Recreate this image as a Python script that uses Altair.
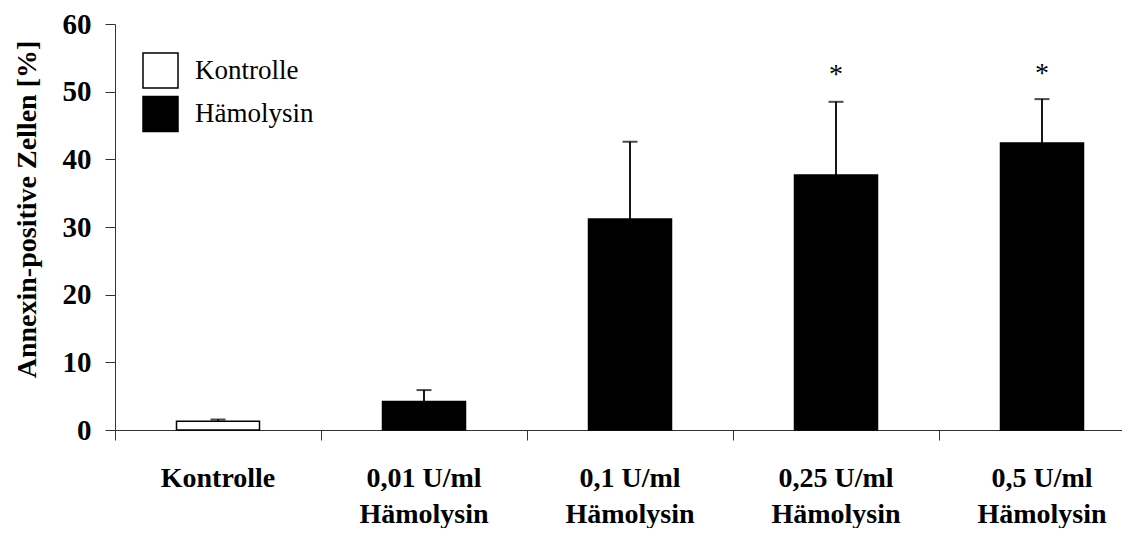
import altair as alt
import pandas as pd

categories = ["Kontrolle", "0,01 U/ml|Hämolysin", "0,1 U/ml|Hämolysin",
              "0,25 U/ml|Hämolysin", "0,5 U/ml|Hämolysin"]
groups = ["Kontrolle", "Hämolysin", "Hämolysin", "Hämolysin", "Hämolysin"]
means = [1.3, 4.2, 31.2, 37.7, 42.4]
errors = [0.25, 1.7, 11.4, 10.8, 6.5]
stars = ["", "", "", "*", "*"]
star_y = [None, None, None, 51.3, 51.5]

df = pd.DataFrame({
    "cat": categories,
    "group": groups,
    "mean": means,
    "upper": [m + e for m, e in zip(means, errors)],
    "star": stars,
    "star_y": star_y,
})

FONT = "Liberation Serif"

x = alt.X(
    "cat:N",
    sort=categories,
    scale=alt.Scale(paddingInner=0, paddingOuter=0, range=[0, 1030]),
    axis=alt.Axis(
        title=None,
        labelExpr="split(datum.label, '|')",
        labelFont=FONT,
        labelFontSize=28,
        labelFontWeight="bold",
        labelColor="black",
        labelAngle=0,
        labelBaseline="alphabetic",
        labelPadding=46,
        labelLineHeight=36,
        bandPosition=0,
        tickSize=10,
        tickColor="#333333",
        domainColor="#333333",
        labelLimit=400,
    ),
)

y = alt.Y(
    "mean:Q",
    scale=alt.Scale(domain=[0, 60], nice=False),
    axis=alt.Axis(
        title="Annexin-positive Zellen [%]",
        values=[0, 10, 20, 30, 40, 50, 60],
        grid=False,
        labelFont=FONT,
        labelFontSize=29,
        labelFontWeight="bold",
        labelColor="black",
        labelPadding=14,
        tickSize=10,
        tickColor="#333333",
        domainColor="#333333",
        titleFont=FONT,
        titleFontSize=28,
        titleFontWeight="bold",
        titleColor="black",
        titleX=-80,
        titleY=185,
        titleBaseline="alphabetic",
        titleAlign="center",
        titleAngle=-90,
    ),
)

color = alt.Color(
    "group:N",
    scale=alt.Scale(domain=["Kontrolle", "Hämolysin"], range=["white", "black"]),
    legend=alt.Legend(
        title=None,
        orient="none",
        legendX=27,
        legendY=28,
        padding=0,
        symbolType="square",
        symbolSize=1225,
        symbolStrokeColor="black",
        symbolStrokeWidth=1.5,
        symbolOpacity=1,
        labelFont=FONT,
        labelFontSize=27,
        labelColor="black",
        labelOffset=16,
        rowPadding=2.5,
    ),
)

base = alt.Chart(df)

bars = base.mark_bar(size=83, stroke="black", strokeWidth=1.5, opacity=1).encode(
    x=x, y=y, color=color
)

rules = base.mark_rule(color="black", strokeWidth=1.8).encode(
    x=alt.X("cat:N", sort=categories), y="mean:Q", y2="upper:Q"
)

caps = base.mark_tick(color="black", size=15, thickness=2).encode(
    x=alt.X("cat:N", sort=categories), y="upper:Q"
)

star_text = base.transform_filter("datum.star != ''").mark_text(
    font=FONT, fontSize=28, color="black", baseline="alphabetic", align="center"
).encode(
    x=alt.X("cat:N", sort=categories), y="star_y:Q", text="star:N"
)

chart = alt.layer(bars, rules, caps, star_text).properties(
    width=1007,
    height=406,
    autosize=alt.AutoSizeParams(type="none"),
    padding={"left": 107, "top": 16, "right": 0, "bottom": 98},
    background="white",
).configure_view(stroke=None)

chart.save("out.html", embed_options={"renderer": "svg", "actions": False})
